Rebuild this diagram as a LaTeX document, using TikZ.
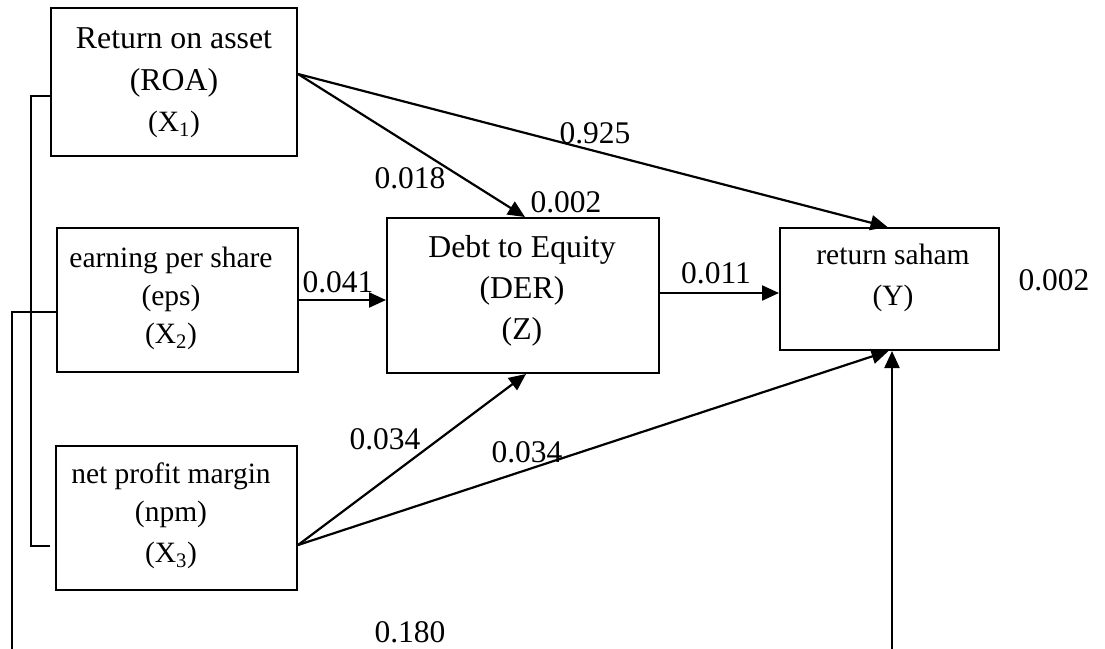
\documentclass[tikz,border=0pt]{standalone}
\usepackage{fontspec}
\setmainfont{Liberation Serif}
\usetikzlibrary{arrows.meta,calc}
\tikzset{
  box/.style={draw, line width=2pt, inner sep=0pt, rectangle},
  txt/.style={anchor=base, inner sep=0pt, font=\fontsize{29.5}{36}\selectfont},
  txtbig/.style={anchor=base, inner sep=0pt, font=\fontsize{31.8}{38}\selectfont},
  num/.style={anchor=base, inner sep=0pt, font=\fontsize{31.5}{38}\selectfont},
  conn/.style={line width=2.2pt},
  arr/.style={line width=2.2pt, -{Triangle[length=17pt,width=15pt]}},
}
\begin{document}
\begin{tikzpicture}[x=1pt,y=-1pt]
\useasboundingbox (0,0) rectangle (1105,648);
% boxes
\node[box, minimum width=246pt, minimum height=148pt] (roa) at (174,82) {};
\node[box, minimum width=241pt, minimum height=144pt] (eps) at (177.5,300) {};
\node[box, minimum width=241pt, minimum height=144pt] (npm) at (176.5,518) {};
\node[box, minimum width=272pt, minimum height=155pt] (der) at (523,295.5) {};
\node[box, minimum width=219pt, minimum height=122pt] (yb) at (889.5,289) {};
% box texts
\node[txtbig] (roa1) at (174,48) {Return on asset};
\node[txtbig] (roa2) at (174,90) {(ROA)};
\node[txt] (roa3) at (174,131) {(X\textsubscript{1})};
\node[txt] (eps1) at (171,267) {earning per share};
\node[txt] (eps2) at (171,305) {(eps)};
\node[txt] (eps3) at (171,343) {(X\textsubscript{2})};
\node[txt] (npm1) at (171,483) {net profit margin};
\node[txt] (npm2) at (171,521) {(npm)};
\node[txt] (npm3) at (171,562) {(X\textsubscript{3})};
\node[txtbig] (der1) at (522,257) {Debt to Equity};
\node[txtbig] (der2) at (522,298) {(DER)};
\node[txtbig] (der3) at (522,339) {(Z)};
\node[txt] (y1) at (893,264) {return saham};
\node[txt] (y2) at (893,305) {(Y)};
% connectors
\draw[arr] ([yshift=8pt]roa.east) -- ([xshift=2pt]der.north);
\draw[arr] ([yshift=8pt]roa.east) -- ([xshift=-2pt]yb.north);
\draw[arr] (eps.east) -- (eps.east -| der.west);
\draw[arr] ([yshift=2.5pt]der.east) -- ([yshift=2.5pt]der.east -| yb.west);
\draw[arr] ([yshift=-27pt]npm.east) -- ([xshift=3pt]der.south);
\draw[arr] ([yshift=-27pt]npm.east) -- ([xshift=-1pt]yb.south);
\coordinate (ybot) at (892,650);
\draw[arr] (ybot) -- (ybot |- yb.south);
% left brackets
\draw[conn] ([yshift=-14pt]roa.west) -| (31,546) -- ([yshift=-28pt,xshift=-5pt]npm.west);
\coordinate (lbot) at (12,650);
\draw[conn] ([yshift=-12pt]eps.west) -| (lbot);
% coefficient labels
\node[num] (c925) at (595,143) {0.925};
\node[num] (c018) at (410,188) {0.018};
\node[num] (c002a) at (566,212) {0.002};
\node[num] (c041) at (338,292) {0.041};
\node[num] (c011) at (716,283) {0.011};
\node[num] (c002b) at (1054,290) {0.002};
\node[num] (c034a) at (385,449) {0.034};
\node[num] (c034b) at (527,462) {0.034};
\node[num] (c180) at (410,642) {0.180};
\end{tikzpicture}
\end{document}
